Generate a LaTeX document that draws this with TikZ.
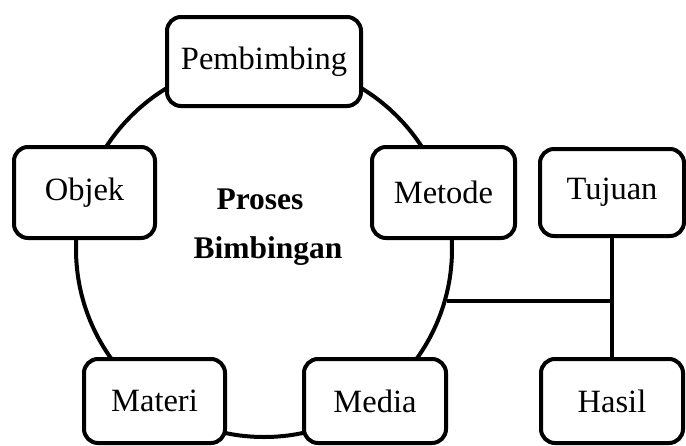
\documentclass[tikz,border=0pt]{standalone}
\usepackage{fontspec}
\setmainfont{Liberation Serif}
\begin{document}
\begin{tikzpicture}[x=1pt,y=-1pt,
  lw/.style={line width=4pt},
  boxnode/.style={lw, draw, fill=white, rounded corners=14pt, inner sep=0pt,
    font=\fontsize{32.5}{38}\selectfont},
  lbl/.style={inner sep=0pt, font=\fontsize{31.5}{38}\selectfont\bfseries}]
\useasboundingbox (0,0) rectangle (686,445);
\node[circle, draw, lw, minimum size=376pt, inner sep=0pt] (ring) at (264,249) {};
\node[lbl, anchor=base] (proses) at (260,209) {Proses};
\node[lbl, anchor=base] (bimb) at (268,258) {Bimbingan};
\coordinate (join) at (ring.-16);
\node[boxnode, minimum width=194pt, minimum height=89pt] (pemb) at (264,61.5) {Pembimbing};
\node[boxnode, minimum width=141pt, minimum height=91pt] (objek) at (84.5,192.5) {Objek};
\node[boxnode, minimum width=143pt, minimum height=91pt] (metode) at (443.5,192.5) {Metode};
\node[boxnode, minimum width=144pt, minimum height=87pt] (tujuan) at (612,192.5) {Tujuan};
\node[boxnode, minimum width=141pt, minimum height=84pt] (materi) at (154.5,401) {Materi};
\node[boxnode, minimum width=142pt, minimum height=84pt] (media) at (375,401) {Media};
\node[boxnode, minimum width=142pt, minimum height=84pt] (hasil) at (612,401) {Hasil};
\draw[lw] (tujuan.south) -- (hasil.north);
\draw[lw] (join) -- (tujuan.south |- join);
\end{tikzpicture}
\end{document}
